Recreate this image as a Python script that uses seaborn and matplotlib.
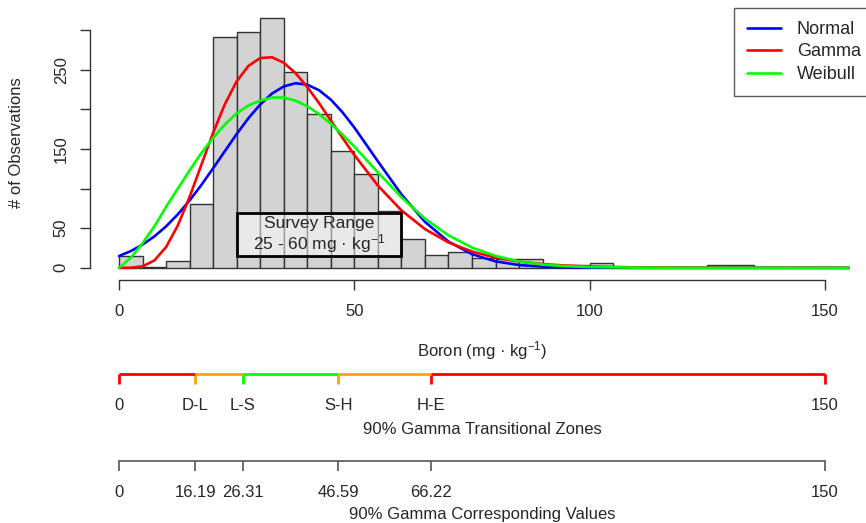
import numpy as np
import pandas as pd
import seaborn as sns
import matplotlib.pyplot as plt
from matplotlib.patches import Rectangle

# Histogram counts, 5 mg/kg bins from 0 to 155
bin_edges = list(range(0, 160, 5))
counts = [15, 1, 8, 80, 291, 298, 316, 247, 194, 147, 119, 72,
          36, 16, 20, 12, 11, 11, 0, 4, 6, 0, 0, 0, 0, 4, 3, 0, 0, 0, 0]

# Fitted curves (expected counts per bin)
curve_x = [0, 2.5, 5, 7.5, 10, 12.5, 15, 17.5, 20, 22.5, 25, 27.5, 30, 32.5,
           35, 37.5, 40, 42.5, 45, 47.5, 50, 55, 60, 65, 70, 75, 80, 85, 90,
           95, 100, 110, 120, 155]
normal_y = [14.9, 21.1, 29.3, 39.6, 52.3, 67.5, 85.0, 104.6, 125.7, 147.4,
            168.9, 188.9, 206.2, 220.0, 229.0, 233.0, 231.2, 224.2, 212.3,
            196.2, 177.1, 134.4, 92.7, 58.0, 33.1, 17.2, 8.1, 3.5, 1.4, 0.5,
            0.2, 0.0, 0.0, 0.0]
gamma_y = [0.0, 0.1, 1.8, 9.2, 26.1, 53.5, 89.5, 130.1, 170.6, 206.7, 235.4,
           254.9, 264.9, 265.8, 258.9, 245.8, 228.2, 207.9, 186.0, 163.9,
           142.4, 103.8, 72.5, 48.9, 32.0, 20.5, 12.8, 7.8, 4.7, 2.8, 1.6,
           0.5, 0.2, 0.0]
weibull_y = [0.0, 12.7, 31.1, 52.2, 77.0, 100.0, 123.0, 145.0, 164.0, 181.0,
             195.0, 205.0, 211.0, 215.0, 215.0, 211.0, 204.0, 194.0, 182.0,
             168.0, 153.0, 120.5, 89.0, 62.0, 41.0, 25.5, 15.0, 8.0, 4.0,
             2.0, 1.0, 0.2, 0.0, 0.0]

# Transitional zones
zone_edges = [0, 16.19, 26.31, 46.59, 66.22, 150]
zone_labels = ["0", "D-L", "L-S", "S-H", "H-E", "150"]
zone_colors = ["#ff0000", "#ffa500", "#00ff00", "#ffa500", "#ff0000"]
value_labels = ["0", "16.19", "26.31", "46.59", "66.22", "150"]

sns.set_theme(style="white")
plt.rcParams["font.family"] = ["Liberation Sans", "DejaVu Sans"]
plt.rcParams["mathtext.fontset"] = "custom"
plt.rcParams["mathtext.rm"] = "Liberation Sans"
plt.rcParams["mathtext.it"] = "Liberation Sans:italic"
plt.rcParams["mathtext.default"] = "regular"

W, H = 866, 523
fs = 12
axis_col = "#333333"

fig = plt.figure(figsize=(W / 100, H / 100), dpi=100)

# pixel layout of the main panel
x0_px, px_per = 119, 4.707
y0_px, py_per = 267.8, 0.792
left_px, bottom_px = 89.5, 279.5
xlim = ((left_px - x0_px) / px_per, (W - x0_px) / px_per)
ylim = ((y0_px - bottom_px) / py_per, y0_px / py_per)
ax = fig.add_axes([left_px / W, 1 - bottom_px / H, 1 - left_px / W, bottom_px / H])

df = pd.DataFrame({"mid": [e + 2.5 for e in bin_edges[:-1]], "n": counts})
sns.histplot(data=df, x="mid", weights="n", bins=bin_edges, color="#d3d3d3",
             edgecolor=axis_col, linewidth=1, alpha=1, ax=ax, zorder=2)

ax.add_patch(Rectangle((25, 15), 35, 54, facecolor="white", alpha=0.5,
                       edgecolor="none", zorder=3))
ax.add_patch(Rectangle((25, 15), 35, 54, facecolor="none",
                       edgecolor="black", linewidth=2, zorder=3))
ax.text(42.5, 55.5, "Survey Range", ha="center", va="center", fontsize=12.5, zorder=4)
ax.text(42.5, 31, "25 - 60 mg \u00b7 kg$^{-1}$", ha="center", va="center",
        fontsize=12.5, zorder=4)

curves = pd.DataFrame({"x": curve_x, "Normal": normal_y, "Gamma": gamma_y,
                       "Weibull": weibull_y})
for name, col in [("Normal", "#0000ff"), ("Gamma", "#ff0000"), ("Weibull", "#00ff00")]:
    sns.lineplot(data=curves, x="x", y=name, color=col, linewidth=1.9,
                 label=name, ax=ax, zorder=5, legend=False)

ax.set_xlim(xlim)
ax.set_ylim(ylim)
ax.set_xlabel("")
ax.set_ylabel("")
for s in ["top", "right"]:
    ax.spines[s].set_visible(False)
for s in ["left", "bottom"]:
    ax.spines[s].set_color(axis_col)
    ax.spines[s].set_linewidth(1)
ax.spines["bottom"].set_bounds(0, 150)
ax.spines["left"].set_bounds(0, 300)
ax.set_xticks([0, 50, 100, 150], ["0", "50", "100", "150"])
ax.set_yticks([0, 50, 100, 150, 200, 250, 300],
              ["0", "50", "", "150", "", "250", ""])
ax.tick_params(axis="x", length=7.5, width=1, color=axis_col, pad=10,
               labelsize=fs, bottom=True, direction="out")
ax.tick_params(axis="y", length=7, width=1, color=axis_col, pad=8,
               labelsize=fs, left=True, direction="out")
for lab in ax.get_yticklabels():
    lab.set_rotation(90)
    lab.set_va("center")

handles, labels = ax.get_legend_handles_labels()
leg = fig.legend(handles, labels, loc="upper left",
                 bbox_to_anchor=(734 / W, 1 - 8 / H), borderaxespad=0,
                 fontsize=13, frameon=True, fancybox=False,
                 handlelength=1.9, handletextpad=0.85, labelspacing=0.3,
                 borderpad=0.72)
leg.get_frame().set_edgecolor(axis_col)
leg.get_frame().set_linewidth(1)

fig.text(482 / W, 1 - 351 / H, "Boron (mg \u00b7 kg$^{-1}$)", ha="center",
         va="center", fontsize=fs)
fig.text(17 / W, 1 - 143 / H, "# of Observations", ha="center", va="center",
         rotation=90, fontsize=fs)

# zone axis
ax2 = fig.add_axes([left_px / W, 1 - 374 / H, 1 - left_px / W, 0.001])
ax2.set_xlim(xlim)
ax2.set_ylim(0, 1)
for s in ax2.spines.values():
    s.set_visible(False)
ax2.patch.set_visible(False)
for i, c in enumerate(zone_colors):
    ax2.hlines(0, zone_edges[i], zone_edges[i + 1], color=c, linewidth=2,
               clip_on=False)
ax2.set_yticks([])
ax2.set_xticks(zone_edges, zone_labels)
ax2.tick_params(axis="x", length=7.5, width=2, pad=10, labelsize=fs,
                bottom=True, direction="out")
tick_cols = zone_colors + [zone_colors[-1]]
for t, c in zip(ax2.xaxis.get_major_ticks(), tick_cols):
    t.tick1line.set_color(c)
    t.tick1line.set_markeredgecolor(c)
fig.text(482 / W, 1 - 430 / H, "90% Gamma Transitional Zones", ha="center",
         va="center", fontsize=fs)

# corresponding values axis
ax3 = fig.add_axes([left_px / W, 1 - 460.7 / H, 1 - left_px / W, 0.001])
ax3.set_xlim(xlim)
ax3.set_ylim(0, 1)
for s in ["top", "right", "left"]:
    ax3.spines[s].set_visible(False)
ax3.spines["bottom"].set_bounds(0, 150)
ax3.spines["bottom"].set_color("#555555")
ax3.spines["bottom"].set_linewidth(1.2)
ax3.patch.set_visible(False)
ax3.set_yticks([])
ax3.set_xticks(zone_edges, value_labels)
ax3.tick_params(axis="x", length=7.5, width=1.2, color="#555555", pad=10,
                labelsize=fs, bottom=True, direction="out")
fig.text(482 / W, 1 - 514 / H, "90% Gamma Corresponding Values", ha="center",
         va="center", fontsize=fs)

fig.savefig("out.png", dpi=100)
